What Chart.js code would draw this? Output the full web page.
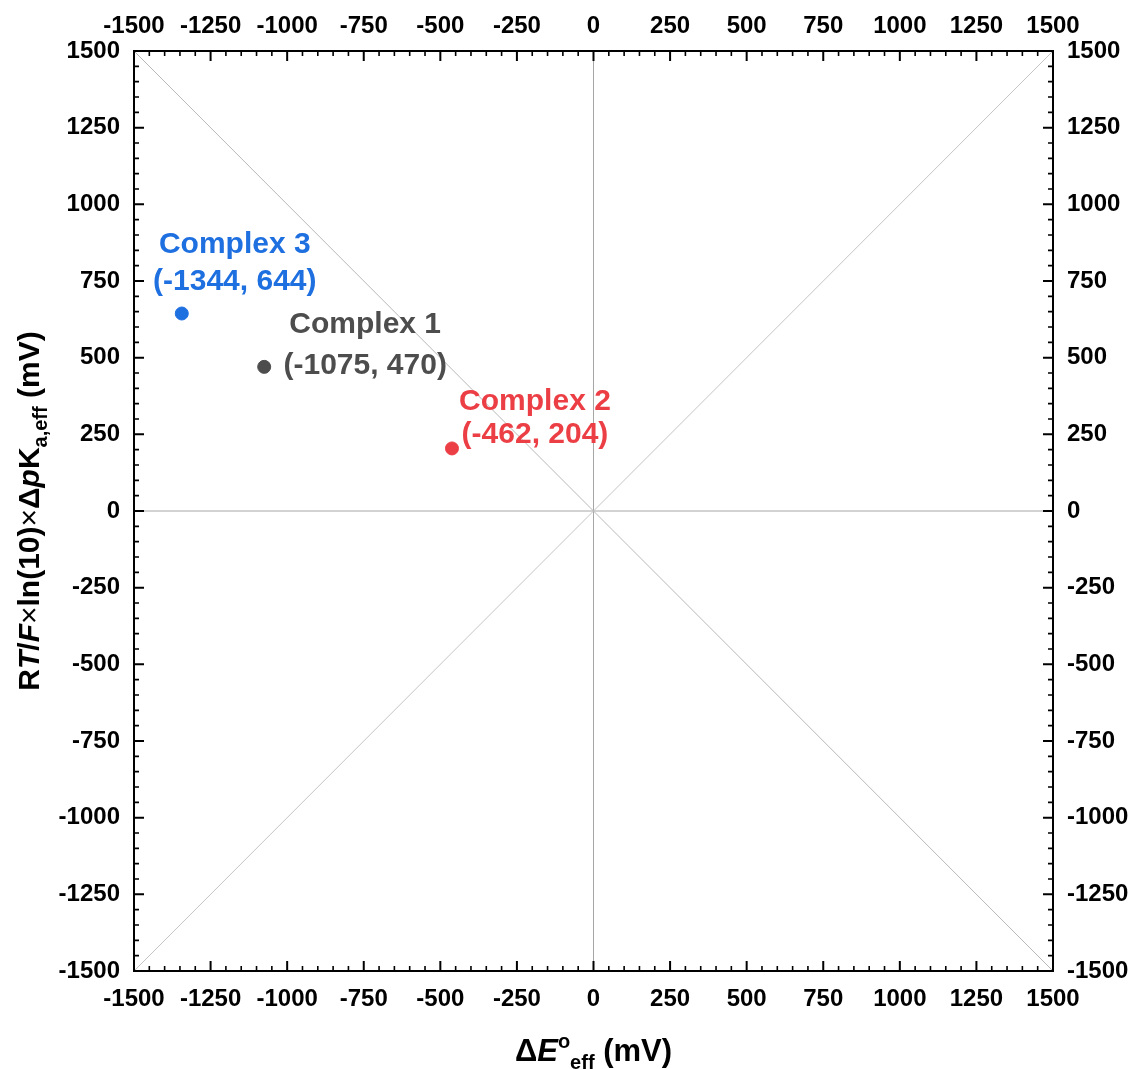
<!DOCTYPE html>
<html>
<head>
<meta charset="utf-8">
<script src="https://cdn.jsdelivr.net/npm/chart.js@4.4.1/dist/chart.umd.min.js"></script>
<style>
  body { margin: 0; background: #fff; }
  #wrap { width: 1135px; height: 1069px; }
</style>
</head>
<body>
<div id="wrap"><canvas id="myChart" width="1135" height="1069"></canvas></div>
<script>
// data
var names = ['Complex 1', 'Complex 2', 'Complex 3'];
var xVals = [-1075, -462, -1344];
var yVals = [470, 204, 644];
var colors = ['#4d4d4d', '#ec3f45', '#1e6fe0'];
// axis range and ticks
var axisMin = -1500, axisMax = 1500;
var majorStep = 250, minorStep = 50;

var FONT = '"Liberation Sans", Arial, Helvetica, sans-serif';

var datasets = [];
for (var i = 0; i < names.length; i++) {
  datasets.push({
    label: names[i],
    data: [{ x: xVals[i], y: yVals[i] }],
    backgroundColor: colors[i],
    borderColor: colors[i],
    pointRadius: 6.5,
    pointHoverRadius: 6.5,
    order: 0
  });
}
// reference lines: diagonals and zero lines
var refLines = [
  { data: [{ x: axisMin, y: axisMin }, { x: axisMax, y: axisMax }], color: '#c4c4c4' },
  { data: [{ x: axisMin, y: axisMax }, { x: axisMax, y: axisMin }], color: '#b8b8b8' },
  { data: [{ x: 0, y: axisMin }, { x: 0, y: axisMax }], color: '#a6a6a6' },
  { data: [{ x: axisMin, y: 0 }, { x: axisMax, y: 0 }], color: '#a6a6a6' }
];
refLines.forEach(function (r) {
  datasets.push({
    data: r.data,
    showLine: true,
    borderColor: r.color,
    borderWidth: 1,
    pointRadius: 0,
    order: 10
  });
});

function fixSize(w, h) {
  return function (scale) {
    if (w != null) scale.width = w;
    if (h != null) scale.height = h;
  };
}

function axis(pos, w, h, pad) {
  return {
    type: 'linear',
    position: pos,
    min: axisMin,
    max: axisMax,
    grid: { display: true, drawOnChartArea: false, drawTicks: false },
    border: { display: true, color: '#000', width: 2 },
    ticks: {
      stepSize: majorStep,
      padding: pad,
      color: '#000',
      font: { family: FONT, size: 24, weight: 'bold' },
      callback: function (v) { return String(v); }
    },
    afterFit: fixSize(w, h)
  };
}

// label offsets in pixels from the point: [dx, dy line1, dy line2]
var labelOffsets = [[101, -42, -1], [83, -47, -14], [53, -69, -32]];

var labelsPlugin = {
  id: 'pointLabels',
  afterDatasetsDraw: function (chart) {
    var ctx = chart.ctx, sx = chart.scales.x, sy = chart.scales.y;
    ctx.save();
    ctx.font = 'bold 30px ' + FONT;
    ctx.textAlign = 'center';
    ctx.textBaseline = 'middle';
    for (var i = 0; i < names.length; i++) {
      var px = sx.getPixelForValue(xVals[i]);
      var py = sy.getPixelForValue(yVals[i]);
      var o = labelOffsets[i];
      ctx.fillStyle = colors[i];
      ctx.fillText(names[i], px + o[0], py + o[1]);
      ctx.fillText('(' + xVals[i] + ', ' + yVals[i] + ')', px + o[0], py + o[2]);
    }
    ctx.restore();
  }
};

var ticksPlugin = {
  id: 'inwardTicks',
  afterDraw: function (chart) {
    var ctx = chart.ctx, a = chart.chartArea;
    var sx = chart.scales.x, sy = chart.scales.y;
    ctx.save();
    ctx.strokeStyle = '#000';
    for (var v = axisMin; v <= axisMax; v += minorStep) {
      var major = v % majorStep === 0;
      var len = major ? 10 : 5;
      ctx.lineWidth = major ? 2 : 1.6;
      var px = sx.getPixelForValue(v), py = sy.getPixelForValue(v);
      ctx.beginPath();
      ctx.moveTo(px, a.bottom); ctx.lineTo(px, a.bottom - len);
      ctx.moveTo(px, a.top); ctx.lineTo(px, a.top + len);
      ctx.moveTo(a.left, py); ctx.lineTo(a.left + len, py);
      ctx.moveTo(a.right, py); ctx.lineTo(a.right - len, py);
      ctx.stroke();
    }
    ctx.restore();
  }
};

// rich text: segments {t, it, sh (baseline shift), sz, w}
function segFont(s, size) {
  return (s.it ? 'italic ' : '') + (s.w || 'bold') + ' ' + (s.sz || size) + 'px ' + FONT;
}
function drawRich(ctx, segs, size) {
  var w = 0;
  segs.forEach(function (s) { ctx.font = segFont(s, size); w += ctx.measureText(s.t).width; });
  var x = -w / 2;
  segs.forEach(function (s) {
    ctx.font = segFont(s, size);
    ctx.fillText(s.t, x, s.sh || 0);
    x += ctx.measureText(s.t).width;
  });
}

var titlesPlugin = {
  id: 'axisTitles',
  afterDraw: function (chart) {
    var ctx = chart.ctx, a = chart.chartArea;
    ctx.save();
    ctx.fillStyle = '#000';
    ctx.textAlign = 'left';
    ctx.textBaseline = 'alphabetic';
    // x title
    ctx.save();
    ctx.translate((a.left + a.right) / 2, 1061);
    drawRich(ctx, [
      { t: 'Δ' }, { t: 'E', it: true }, { t: 'o', sh: -13, sz: 20 },
      { t: 'eff', sh: 8, sz: 20 }, { t: ' (mV)' }
    ], 31);
    ctx.restore();
    // y title
    ctx.save();
    ctx.translate(39, (a.top + a.bottom) / 2);
    ctx.rotate(-Math.PI / 2);
    drawRich(ctx, [
      { t: 'R' }, { t: 'T', it: true }, { t: '/' }, { t: 'F', it: true },
      { t: '×', w: 'normal' }, { t: 'ln(10)' }, { t: '×', w: 'normal' }, { t: 'Δ' },
      { t: 'p', it: true }, { t: 'K' },
      { t: 'a,eff', sh: 8, sz: 20 }, { t: ' (mV)' }
    ], 30);
    ctx.restore();
    ctx.restore();
  }
};

var ctx = document.getElementById('myChart').getContext('2d');
var chart = new Chart(ctx, {
  type: 'scatter',
  data: { datasets: datasets },
  options: {
    responsive: false,
    animation: false,
    layout: { padding: 0 },
    plugins: {
      legend: { display: false },
      tooltip: { enabled: false }
    },
    scales: {
      x: axis('bottom', null, 98, 14),
      x2: axis('top', null, 51, 10),
      y: axis('left', 134, null, 14),
      y2: axis('right', 82, null, 14)
    }
  },
  plugins: [labelsPlugin, ticksPlugin, titlesPlugin]
});
</script>
</body>
</html>
